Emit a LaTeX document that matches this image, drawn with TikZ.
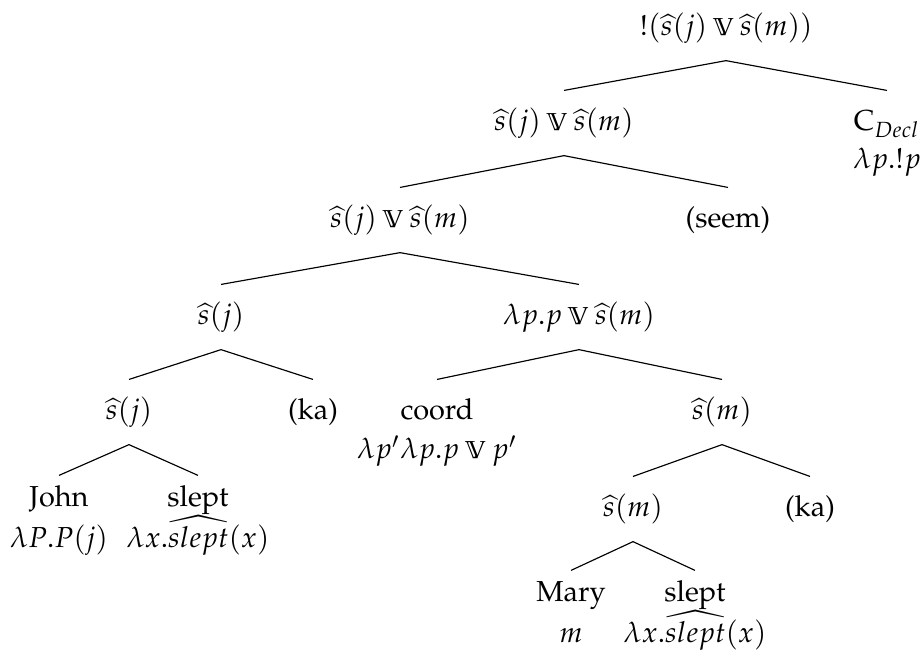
\documentclass[tikz,border=0pt]{standalone}
\usepackage[T1]{fontenc}
\usepackage{mathpazo}
\usepackage{amsmath, amssymb}
\usepackage{graphicx}
\usepackage{tikz}
\newcommand{\iqor}{\mathbin{\scalebox{0.85}{$\mathbb{V}$}}}
\newcommand{\shat}{\widehat{s}}

\begin{document}
\begin{tikzpicture}[
    x=0.346pt, y=-0.346pt,
    lab/.style={anchor=base, inner sep=3.33pt, text height=10.5pt, text depth=5pt},
    word/.style={lab, text height=7.4pt},
    sem/.style={anchor=base, inner sep=0pt}
]
\useasboundingbox (0,0) rectangle (923,652);
% root and its two daughters
\node[lab] (top) at (726,36) {$!(\shat(j) \iqor \shat(m))$};
\node[lab] (disj1) at (564,131) {$\shat(j) \iqor \shat(m)$};
\node[lab] (cdecl) at (887,131) {C$_{Decl}$};
\node[sem] (cdeclS) at (887,169) {$\lambda p.!p$};
\node[lab] (disj2) at (400,228) {$\shat(j) \iqor \shat(m)$};
\node[lab] (seem) at (728,228) {(seem)};
\node[lab] (sj) at (221,325) {$\shat(j)$};
\node[lab] (orp) at (579,325) {$\lambda p.p \iqor \shat(m)$};
% John side
\node[lab] (sj2) at (129,420) {$\shat(j)$};
\node[lab] (ka1) at (313,420) {(ka)};
\node[word] (john) at (59,507) {John};
\node[sem] (johnS) at (59,548) {$\lambda P.P(j)$};
\node[word] (slept) at (198,507) {slept};
\node[sem] (sleptS) at (198,548) {$\lambda x.\widehat{slept}(x)$};
% Mary side
\node[lab] (coord) at (437,420) {coord};
\node[sem] (coordS) at (437,459) {$\lambda p'\lambda p.p \iqor p'$};
\node[lab] (sm) at (722,420) {$\shat(m)$};
\node[lab] (sm2) at (633,517) {$\shat(m)$};
\node[lab] (ka2) at (810,517) {(ka)};
\node[word] (mary) at (571,602) {Mary};
\node[sem] (maryS) at (571,643) {$m$};
\node[word] (slept2) at (695,602) {slept};
\node[sem] (slept2S) at (695,643) {$\lambda x.\widehat{slept}(x)$};

\foreach \p/\c in {top/disj1, top/cdecl, disj1/disj2, disj1/seem,
    disj2/sj, disj2/orp, sj/sj2, sj/ka1, sj2/john, sj2/slept,
    orp/coord, orp/sm, sm/sm2, sm/ka2, sm2/mary, sm2/slept2}
    \draw (\p.south) -- (\c.north);
\end{tikzpicture}
\end{document}
